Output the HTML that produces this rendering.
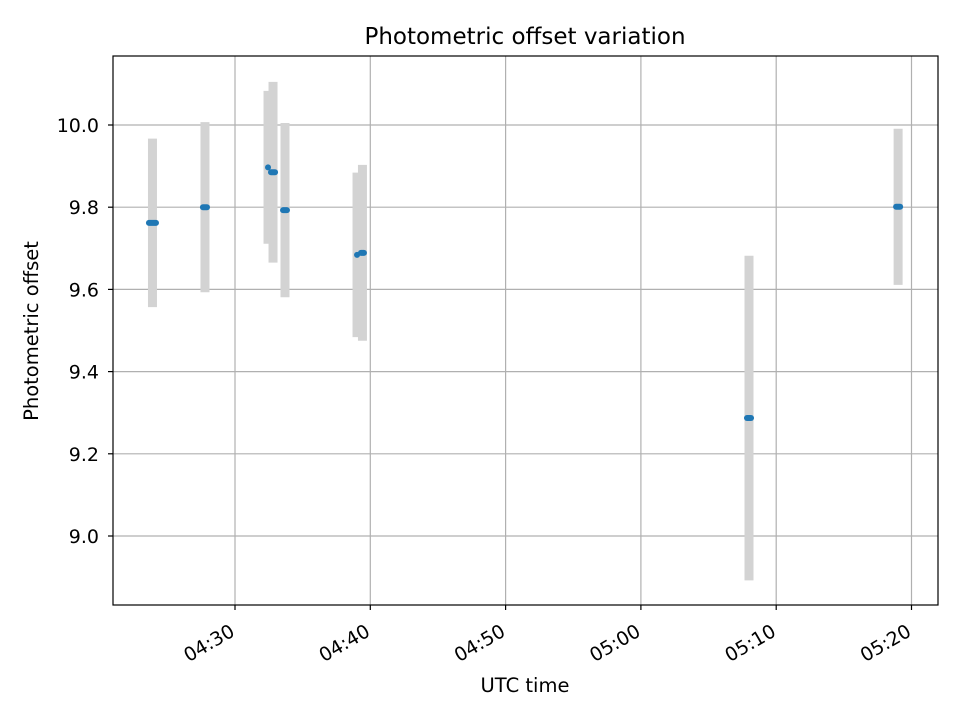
<!DOCTYPE html>
<html><head><meta charset="utf-8"><style>
body{margin:0;background:#fff}
svg text{font-family:"DejaVu Sans","Liberation Sans",sans-serif;fill:#000}
</style></head><body>
<svg id="chart" width="960" height="720" xmlns="http://www.w3.org/2000/svg">
<rect width="960" height="720" fill="#fff"/>
<g id="grid"></g>
<g id="errs"></g>
<g id="pts"></g>
<rect x="113" y="56" width="825" height="549" fill="none" stroke="#000" stroke-width="1.2"/>
<g id="axes"></g>
<text x="525" y="44" font-size="23" text-anchor="middle">Photometric offset variation</text>
<text x="525" y="692" font-size="19.5" text-anchor="middle">UTC time</text>
<text transform="translate(38,331) rotate(-90)" font-size="19.5" text-anchor="middle">Photometric offset</text>
</svg>
<script>
// minutes after 04:00 UTC: start/end time of each exposure group
const groupStart = [23.64,27.63,32.44,32.66,33.55,39.02,39.31,67.84,78.86];
const groupEnd   = [24.16,27.93,32.44,32.96,33.84,39.02,39.53,68.14,79.16];
const offsets = [9.762,9.80,9.897,9.885,9.793,9.684,9.689,9.287,9.801];
const errors  = [0.205,0.207,0.186,0.22,0.212,0.2,0.214,0.395,0.19];
const xTicks = [30,40,50,60,70,80];
const xTickLabels = ["04:30","04:40","04:50","05:00","05:10","05:20"];
const yTicks = [9.0,9.2,9.4,9.6,9.8,10.0];
const yTickLabels = ["9.0","9.2","9.4","9.6","9.8","10.0"];

const NS="http://www.w3.org/2000/svg";
const L=113,R=938,T=56,B=605;
function xs(t){return 235+(t-30)*13.53;}
function ys(v){return 125+(10-v)*411;}
function mk(tag,attrs,parent){const e=document.createElementNS(NS,tag);for(const k in attrs)e.setAttribute(k,attrs[k]);parent.appendChild(e);return e;}
const grid=document.getElementById('grid'),axes=document.getElementById('axes'),errs=document.getElementById('errs'),pts=document.getElementById('pts');
xTicks.forEach((t,i)=>{
  const x=xs(t);
  const g=mk('line',{x1:x,x2:x,y1:T,y2:B,stroke:'#b0b0b0','stroke-width':1.2},grid);
  
  
  const tk=mk('line',{x1:x,x2:x,y1:B,y2:B+5,stroke:'#000','stroke-width':1.2},axes);
  
  
  const tx=mk('text',{x:0,y:0,'font-size':19,'text-anchor':'end',transform:`translate(${x+1},${B+30}) rotate(-30)`},axes);
  tx.textContent=xTickLabels[i];
  
  
});
yTicks.forEach((v,i)=>{
  const y=ys(v);
  const g=mk('line',{x1:L,x2:R,y1:y,y2:y,stroke:'#b0b0b0','stroke-width':1.2},grid);
  
  
  const tk=mk('line',{x1:L-5,x2:L,y1:y,y2:y,stroke:'#000','stroke-width':1.2},axes);
  
  
  const tx=mk('text',{x:L-14,y:y+7,'font-size':19,'text-anchor':'end'},axes);
  tx.textContent=yTickLabels[i];
  
  
});
offsets.forEach((v,i)=>{
  const x=(xs(groupStart[i])+xs(groupEnd[i]))/2;
  const e=mk('line',{x1:x,x2:x,y1:ys(v+errors[i]),y2:ys(v-errors[i]),stroke:'#d3d3d3','stroke-width':9},errs);
  
  
});
offsets.forEach((v,i)=>{
  const c=mk('line',{x1:xs(groupStart[i]),x2:xs(groupEnd[i])+0.01,y1:ys(v),y2:ys(v),stroke:'#1f77b4','stroke-width':6,'stroke-linecap':'round'},pts);
  
  
});
</script>
</body></html>
